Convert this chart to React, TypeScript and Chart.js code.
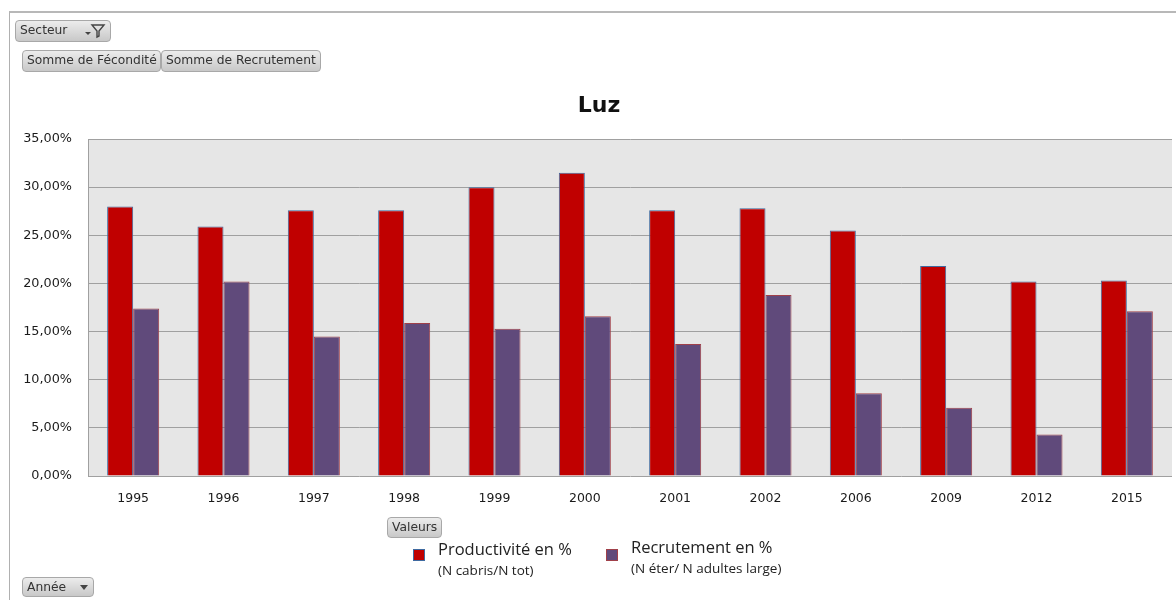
import React, { useEffect, useRef } from "react";
import { Chart, registerables } from "chart.js";

Chart.register(...registerables);

const years = ["1995", "1996", "1997", "1998", "1999", "2000", "2001", "2002", "2006", "2009", "2012", "2015"];
const productivite = [28.0, 25.9, 27.6, 27.6, 30.0, 31.5, 27.6, 27.8, 25.5, 21.8, 20.2, 20.3];
const recrutement = [17.4, 20.2, 14.5, 15.9, 15.3, 16.6, 13.7, 18.8, 8.6, 7.1, 4.3, 17.1];
const yTicks = { min: 0, max: 35, step: 5 };
const chartTitle = "Luz";
const legendItems = [
  { label: "Productivité en %", sub: "(N cabris/N tot)", color: "#c00000", border: "#3f6aa0" },
  { label: "Recrutement en %", sub: "(N éter/ N adultes large)", color: "#604a7b", border: "#a0404a" },
];

const W = 1176;
const H = 600;

const plotBg = {
  id: "plotBg",
  beforeDraw(chart: any) {
    const { ctx, chartArea } = chart;
    ctx.save();
    ctx.fillStyle = "#e6e6e6";
    ctx.fillRect(chartArea.left, chartArea.top, chartArea.right - chartArea.left, chartArea.bottom - chartArea.top);
    ctx.restore();
  },
};

const btn: React.CSSProperties = {
  position: "absolute",
  boxSizing: "border-box",
  background: "linear-gradient(#ececec, #c8c8c8)",
  border: "1px solid #a8a8a8",
  borderRadius: 4,
  fontFamily: "'DejaVu Sans', sans-serif",
  fontSize: 12.3,
  color: "#333",
  lineHeight: "19px",
  paddingLeft: 4,
  whiteSpace: "nowrap",
};

export default function App() {
  const ref = useRef<HTMLCanvasElement | null>(null);

  useEffect(() => {
    if (!ref.current) return;
    const chart = new Chart(ref.current, {
      type: "bar",
      data: {
        labels: years,
        datasets: [
          {
            label: legendItems[0].label,
            data: productivite,
            backgroundColor: legendItems[0].color,
            borderColor: legendItems[0].border,
            borderWidth: 1,
            categoryPercentage: 0.576,
            barPercentage: 1,
          },
          {
            label: legendItems[1].label,
            data: recrutement,
            backgroundColor: legendItems[1].color,
            borderColor: legendItems[1].border,
            borderWidth: 1,
            categoryPercentage: 0.576,
            barPercentage: 1,
          },
        ],
      },
      options: {
        responsive: false,
        animation: false,
        devicePixelRatio: 1,
        layout: { padding: { left: 8, right: 4, top: 139, bottom: 94 } },
        plugins: { legend: { display: false }, tooltip: { enabled: false }, title: { display: false } },
        scales: {
          x: {
            grid: { display: false, drawTicks: false },
            border: { display: false },
            ticks: {
              padding: 15,
              color: "#1a1a1a",
              font: { family: "'DejaVu Sans', sans-serif", size: 12.5 },
            },
            afterFit: (s: any) => {
              s.height = 30;
            },
          },
          y: {
            min: yTicks.min,
            max: yTicks.max,
            grid: { color: "#a0a0a0", lineWidth: 1, drawTicks: false },
            border: { display: true, color: "#a0a0a0", width: 1 },
            ticks: {
              stepSize: yTicks.step,
              padding: 16,
              color: "#1a1a1a",
              font: { family: "'DejaVu Sans', sans-serif", size: 12.8 },
              callback: (v: any) => Number(v).toFixed(2).replace(".", ",") + "%",
            },
            afterFit: (s: any) => {
              s.width = 80;
            },
          },
        },
      },
      plugins: [plotBg],
    });
    return () => chart.destroy();
  }, []);

  return (
    <div style={{ position: "fixed", left: 0, top: 0, width: W, height: H, background: "#fff", overflow: "hidden" }}>
      <div
        style={{
          position: "absolute",
          left: 9,
          top: 11,
          width: W,
          height: H,
          borderLeft: "1px solid #b0b0b0",
          borderTop: "2px solid #b8b8b8",
        }}
      />
      <canvas ref={ref} width={W} height={H} style={{ position: "absolute", left: 0, top: 0 }} />
      <div
        style={{
          position: "absolute",
          left: 0,
          top: 90,
          width: 1198,
          textAlign: "center",
          fontFamily: "'DejaVu Sans', sans-serif",
          fontWeight: 700,
          fontSize: 22,
          lineHeight: "30px",
          color: "#111",
        }}
      >
        {chartTitle}
      </div>

      <div style={{ ...btn, left: 15, top: 20, width: 96, height: 22 }}>
        Secteur
        <svg width="22" height="16" viewBox="0 0 22 16" style={{ position: "absolute", left: 68, top: 2 }}>
          <path d="M1 9 L7 9 L4 12 Z" fill="#444" />
          <path d="M8 2 L20 2 L15 8 L15 13 L13 14 L13 8 Z" fill="none" stroke="#444" strokeWidth="1.4" />
        </svg>
      </div>
      <div style={{ ...btn, left: 22, top: 50, width: 139, height: 22 }}>Somme de Fécondité</div>
      <div style={{ ...btn, left: 161, top: 50, width: 160, height: 22 }}>Somme de Recrutement</div>
      <div style={{ ...btn, left: 387, top: 517, width: 55, height: 21 }}>Valeurs</div>
      <div style={{ ...btn, left: 22, top: 577, width: 72, height: 20, lineHeight: "18px" }}>
        Année
        <svg width="10" height="8" viewBox="0 0 10 8" style={{ position: "absolute", left: 56, top: 6 }}>
          <path d="M1 1 L9 1 L5 6 Z" fill="#444" />
        </svg>
      </div>

      {legendItems.map((it, i) => {
        const x = i === 0 ? 413 : 606;
        return (
          <div key={i}>
            <div
              style={{
                position: "absolute",
                left: x,
                top: 549,
                width: 10,
                height: 10,
                background: it.color,
                border: `1px solid ${it.border}`,
              }}
            />
            <div
              style={{
                position: "absolute",
                left: x + 25,
                top: i === 0 ? 538 : 536,
                fontFamily: "'Open Sans', sans-serif",
                fontSize: 16.5,
                lineHeight: "22px",
                color: "#222",
                whiteSpace: "nowrap",
              }}
            >
              {it.label}
            </div>
            <div
              style={{
                position: "absolute",
                left: x + 25,
                top: i === 0 ? 561 : 559,
                fontFamily: "'Open Sans', sans-serif",
                fontSize: 13.5,
                lineHeight: "18px",
                color: "#222",
                whiteSpace: "nowrap",
              }}
            >
              {it.sub}
            </div>
          </div>
        );
      })}
    </div>
  );
}
